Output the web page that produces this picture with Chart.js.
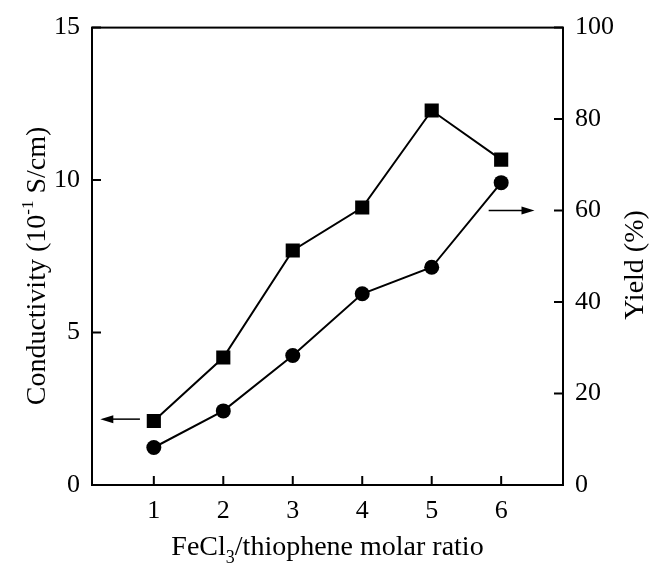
<!DOCTYPE html>
<html>
<head>
<meta charset="utf-8">
<script src="https://cdn.jsdelivr.net/npm/chart.js@4.4.0/dist/chart.umd.min.js"></script>
<style>
  html, body { margin: 0; padding: 0; background: #fff; }
  canvas { display: block; }
</style>
</head>
<body>
<canvas id="chart" width="651" height="564"></canvas>
<script>
// FeCl3/thiophene molar ratio vs conductivity and yield
const ratios = [1, 2, 3, 4, 5, 6];
const conductivity = [2.10, 4.18, 7.69, 9.10, 12.28, 10.67];
const yieldPct = [8.2, 16.2, 28.3, 41.8, 47.6, 66.1];

const xTicks = [1, 2, 3, 4, 5, 6];
const leftTicks = [0, 5, 10, 15];
const rightTicks = [0, 20, 40, 60, 80, 100];

const FONT = '"Liberation Serif", "Times New Roman", serif';

// frame, inward tick marks, arrows and axis titles
const decorations = {
    id: "decorations",
    afterDraw(chart) {
        const ctx = chart.ctx;
        const area = chart.chartArea;
        const x = chart.scales.x, yL = chart.scales.yL, yR = chart.scales.yR;
        ctx.save();
        ctx.strokeStyle = "#000";
        ctx.fillStyle = "#000";
        ctx.lineWidth = 2;
        ctx.strokeRect(area.left, area.top, area.right - area.left, area.bottom - area.top);

        ctx.beginPath();
        xTicks.forEach(v => {
            const px = x.getPixelForValue(v);
            ctx.moveTo(px, area.bottom);
            ctx.lineTo(px, area.bottom - 9);
        });
        leftTicks.forEach(v => {
            const py = yL.getPixelForValue(v);
            ctx.moveTo(area.left, py);
            ctx.lineTo(area.left + 9, py);
        });
        rightTicks.forEach(v => {
            const py = yR.getPixelForValue(v);
            ctx.moveTo(area.right, py);
            ctx.lineTo(area.right - 9, py);
        });
        ctx.stroke();

        // arrows pointing to the matching axis
        function arrow(x1, y1, x2, y2) {
            const dir = Math.sign(x2 - x1);
            ctx.lineWidth = 1.5;
            ctx.beginPath();
            ctx.moveTo(x1, y1);
            ctx.lineTo(x2 - dir * 10, y2);
            ctx.stroke();
            ctx.beginPath();
            ctx.moveTo(x2, y2);
            ctx.lineTo(x2 - dir * 13, y2 - 4);
            ctx.lineTo(x2 - dir * 13, y2 + 4);
            ctx.closePath();
            ctx.fill();
        }
        arrow(x.getPixelForValue(0.80), yL.getPixelForValue(2.16),
              x.getPixelForValue(0.23), yL.getPixelForValue(2.16));
        arrow(x.getPixelForValue(5.82), yR.getPixelForValue(60),
              x.getPixelForValue(6.48), yR.getPixelForValue(60));

        // text runs: [text, size, dy]
        function runs(parts, cx, cy, rot) {
            ctx.save();
            ctx.translate(cx, cy);
            ctx.rotate(rot);
            ctx.textBaseline = "alphabetic";
            ctx.textAlign = "left";
            let total = 0;
            parts.forEach(p => { ctx.font = p[1] + "px " + FONT; total += ctx.measureText(p[0]).width; });
            let px = -total / 2;
            parts.forEach(p => {
                ctx.font = p[1] + "px " + FONT;
                ctx.fillText(p[0], px, p[2]);
                px += ctx.measureText(p[0]).width;
            });
            ctx.restore();
        }
        const midX = (area.left + area.right) / 2;
        runs([["FeCl", 28, 0], ["3", 18, 8], ["/thiophene molar ratio", 28, 0]], midX, 555, 0);
        runs([["Conductivity (10", 28, 0], ["-1", 17, -12], [" S/cm)", 28, 0]], 45, 266, -Math.PI / 2);
        runs([["Yield (%)", 28, 0]], 643, 265, -Math.PI / 2);
        ctx.restore();
    }
};

const tickFont = { family: FONT, size: 26 };

new Chart(document.getElementById("chart"), {
    type: "line",
    data: {
        datasets: [{
            label: "Conductivity",
            data: ratios.map((r, i) => ({ x: r, y: conductivity[i] })),
            yAxisID: "yL",
            borderColor: "#000",
            backgroundColor: "#000",
            borderWidth: 2,
            pointStyle: "rect",
            pointRadius: 10,
            pointBorderWidth: 0,
        }, {
            label: "Yield",
            data: ratios.map((r, i) => ({ x: r, y: yieldPct[i] })),
            yAxisID: "yR",
            borderColor: "#000",
            backgroundColor: "#000",
            borderWidth: 2,
            pointStyle: "circle",
            pointRadius: 7.5,
            pointBorderWidth: 0,
        }]
    },
    options: {
        responsive: false,
        animation: false,
        layout: { padding: { top: 25, left: 0, right: 0, bottom: 0 } },
        plugins: { legend: { display: false }, tooltip: { enabled: false } },
        scales: {
            x: {
                type: "linear",
                min: 0.11,
                max: 6.89,
                afterBuildTicks: s => { s.ticks = xTicks.map(v => ({ value: v })); },
                afterFit: s => { s.height = 79; },
                grid: { display: false, drawTicks: false },
                border: { display: false },
                ticks: { color: "#000", padding: 11, font: tickFont }
            },
            yL: {
                type: "linear",
                position: "left",
                min: 0,
                max: 15,
                afterBuildTicks: s => { s.ticks = leftTicks.map(v => ({ value: v })); },
                afterFit: s => { s.width = 92; },
                grid: { display: false, drawTicks: false },
                border: { display: false },
                ticks: { color: "#000", padding: 12, font: tickFont }
            },
            yR: {
                type: "linear",
                position: "right",
                min: 0,
                max: 100,
                afterBuildTicks: s => { s.ticks = rightTicks.map(v => ({ value: v })); },
                afterFit: s => { s.width = 88; },
                grid: { display: false, drawTicks: false },
                border: { display: false },
                ticks: { color: "#000", padding: 12, font: tickFont }
            }
        }
    },
    plugins: [decorations]
});
</script>
</body>
</html>
